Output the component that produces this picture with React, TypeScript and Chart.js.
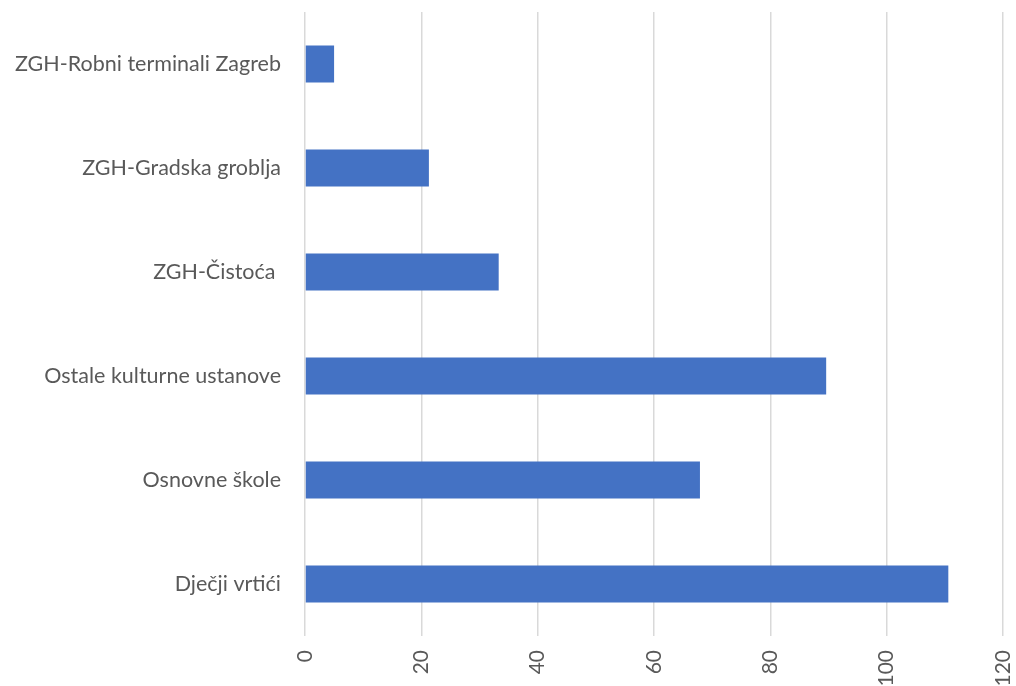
import React, { useEffect, useRef } from "react";
import { Chart, registerables } from "chart.js";

Chart.register(...registerables);

const categories = [
  "ZGH-Robni terminali Zagreb",
  "ZGH-Gradska groblja",
  "ZGH-Čistoća ",
  "Ostale kulturne ustanove",
  "Osnovne škole",
  "Dječji vrtići",
];
const values = [5, 21.3, 33.3, 89.6, 67.9, 110.6];
const xMin = 0;
const xMax = 120;
const xStep = 20;

const zeroPad = (s: any) => {
  s.paddingLeft = 0;
  s.paddingRight = 0;
  s.paddingTop = 0;
  s.paddingBottom = 0;
};

export default function App() {
  const ref = useRef<HTMLCanvasElement>(null);
  useEffect(() => {
    if (!ref.current) return;
    const chart = new Chart(ref.current, {
      type: "bar",
      data: {
        labels: categories,
        datasets: [
          {
            data: values,
            backgroundColor: "#4472C4",
            borderWidth: 0,
            categoryPercentage: 1,
            barPercentage: 0.356,
          },
        ],
      },
      options: {
        indexAxis: "y",
        animation: false,
        responsive: false,
        maintainAspectRatio: false,
        layout: { padding: { top: 12, right: 13, left: 0, bottom: 0 } },
        plugins: { legend: { display: false }, tooltip: { enabled: false } },
        scales: {
          x: {
            min: xMin,
            max: xMax,
            ticks: {
              stepSize: xStep,
              minRotation: 90,
              maxRotation: 90,
              padding: 14,
              color: "#595959",
              font: { family: "Lato", size: 21 },
            },
            grid: { color: "#d9d9d9", lineWidth: 1.5, drawTicks: false },
            border: { display: false },
            afterFit: (s: any) => {
              s.height = 50;
              zeroPad(s);
            },
          },
          y: {
            ticks: {
              padding: 24,
              color: "#595959",
              font: { family: "Lato", size: 21.5 },
            },
            grid: { display: false, drawTicks: false },
            border: { display: false },
            afterFit: (s: any) => {
              s.width = 305;
              zeroPad(s);
            },
          },
        },
      },
    });
    return () => chart.destroy();
  }, []);
  return (
    <div style={{ position: "fixed", left: 0, top: 0, width: 1016, height: 686, background: "#fff" }}>
      <canvas ref={ref} width={1016} height={686} style={{ width: 1016, height: 686 }} />
    </div>
  );
}
